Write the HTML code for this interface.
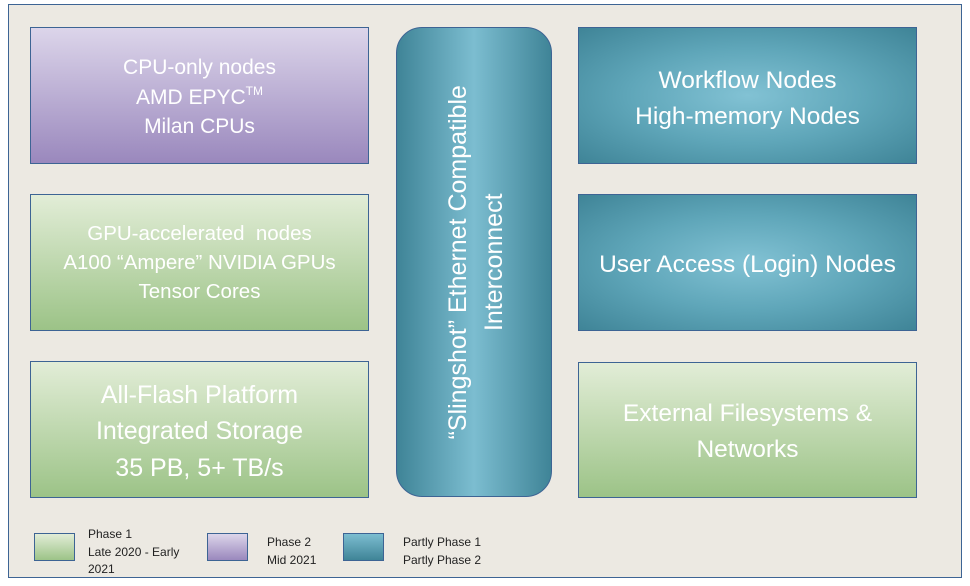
<!DOCTYPE html>
<html><head><style>
body{margin:0;width:970px;height:586px;background:#fff;position:relative;overflow:hidden;font-family:"Liberation Sans",sans-serif}
.frame{position:absolute;left:8px;top:4px;width:952px;height:572px;background:#ece9e2;border:1px solid #3d6494}
.b{position:absolute;box-sizing:border-box;border:1.5px solid #3d6494;display:flex;align-items:center;justify-content:center;text-align:center;color:#fff;line-height:1.25}
.p{background:linear-gradient(#dcd5ea,#9a88bd)}
.g{background:linear-gradient(#e2edd7,#9cc387)}
.t{background:radial-gradient(ellipse at center,#82c2d4 0%,#5fa6b9 50%,#3f8497 100%)}
.lg{position:absolute;box-sizing:border-box;border:1.5px solid #3d6494;width:41px;height:28px;top:533px}
.lt{position:absolute;font-size:12px;color:#222;line-height:17.5px}
sup{font-size:12px;line-height:0;vertical-align:9px}
</style></head><body>
<div class="frame"></div>
<div class="b p" style="left:30px;top:27px;width:339px;height:137px;font-size:21px;line-height:1.4"><div style="margin-top:4px">CPU-only nodes<br>AMD EPYC<sup>TM</sup><br>Milan CPUs</div></div>
<div class="b g" style="left:30px;top:194px;width:339px;height:137px;font-size:20.5px;line-height:1.42"><div>GPU-accelerated&nbsp; nodes<br>A100 “Ampere” NVIDIA GPUs<br>Tensor Cores</div></div>
<div class="b g" style="left:30px;top:361px;width:339px;height:137px;font-size:25px;line-height:1.45"><div style="margin-top:4px">All-Flash Platform<br>Integrated Storage<br>35 PB, 5+ TB/s</div></div>
<div class="b t" style="left:396px;top:27px;width:156px;height:470px;border-radius:26px;background:linear-gradient(90deg,#3f8497,#7cbdd0 50%,#3f8497)"><div style="transform:rotate(-90deg);white-space:nowrap;font-size:25px;line-height:1.45;margin-left:4px">“Slingshot” Ethernet Compatible<br>Interconnect</div></div>
<div class="b t" style="left:578px;top:27px;width:339px;height:137px;font-size:24.5px;line-height:1.45"><div style="margin-top:6px">Workflow Nodes<br>High-memory Nodes</div></div>
<div class="b t" style="left:578px;top:194px;width:339px;height:137px;font-size:24.5px"><div style="margin-top:6px">User Access (Login) Nodes</div></div>
<div class="b g" style="left:578px;top:362px;width:339px;height:136px;font-size:24.5px;line-height:1.45"><div style="margin-top:4px">External Filesystems &amp;<br>Networks</div></div>
<div class="lg g" style="left:34px"></div>
<div class="lt" style="left:88px;top:526px">Phase 1<br>Late 2020 - Early<br>2021</div>
<div class="lg p" style="left:207px"></div>
<div class="lt" style="left:267px;top:534px">Phase 2<br>Mid 2021</div>
<div class="lg" style="left:343px;background:linear-gradient(#7cbdd0,#3f8497)"></div>
<div class="lt" style="left:403px;top:534px">Partly Phase 1<br>Partly Phase 2</div>
</body></html>
